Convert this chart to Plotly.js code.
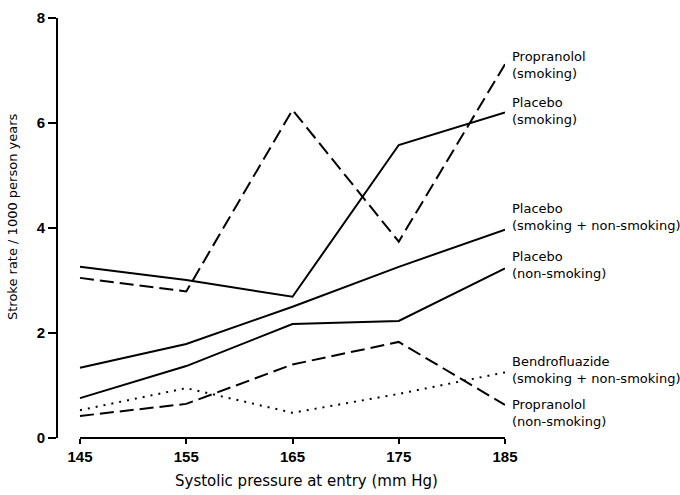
<!DOCTYPE html>
<html><head><meta charset="utf-8">
<script src="https://cdn.plot.ly/plotly-3.0.1.min.js"></script>
<style>html,body{margin:0;padding:0;background:#fff}</style>
</head><body><div id="chart" style="width:680px;height:495px"></div>
<script>
var pressure = [145, 155, 165, 175, 185];
var placeboSmoking = [3.26, 3.01, 2.69, 5.58, 6.20];
var propranololSmoking = [3.05, 2.79, 6.25, 3.74, 7.12];
var placeboAll = [1.34, 1.79, 2.50, 3.26, 3.97];
var placeboNonSmoking = [0.76, 1.37, 2.17, 2.23, 3.23];
var propranololNonSmoking = [0.42, 0.65, 1.40, 1.83, 0.63];
var bendrofluazideAll = [0.53, 0.95, 0.48, 0.84, 1.25];
var xTicks = [145, 155, 165, 175, 185];
var yTicks = [0, 2, 4, 6, 8];
var seriesLabels = [
  "Propranolol<br>(smoking)",
  "Placebo<br>(smoking)",
  "Placebo<br>(smoking + non-smoking)",
  "Placebo<br>(non-smoking)",
  "Bendrofluazide<br>(smoking + non-smoking)",
  "Propranolol<br>(non-smoking)"
];

function tr(y, dash) {
  return {x: pressure, y: y, mode: 'lines', type: 'scatter',
    line: {color: '#000', width: 2, dash: dash}, hoverinfo: 'skip', showlegend: false};
}
var data = [
  tr(placeboSmoking, 'solid'),
  tr(propranololSmoking, '14px,6px'),
  tr(placeboAll, 'solid'),
  tr(placeboNonSmoking, 'solid'),
  tr(propranololNonSmoking, '14px,6px'),
  tr(bendrofluazideAll, '2px,6px')
];

var L = 58, T = 18, W = 680, H = 495, R = 505, B = 438;
var pxPerUnit = (R - 80) / 40;
var xmin = 185 - (R - L) / pxPerUnit;
function px2paperX(p){ return (p - L) / (R - L); }
function px2paperY(p){ return (B - p) / (B - T); }
var txtFont = 'DejaVu Sans, Verdana, sans-serif';
var labelY = [65, 111, 217, 265, 370, 413];
var annotations = seriesLabels.map(function(t, i){
  return {text: t, xref: 'paper', yref: 'paper', x: px2paperX(510), y: px2paperY(labelY[i]),
    xanchor: 'left', yanchor: 'middle', align: 'left', showarrow: false,
    font: {family: txtFont, size: 13, color: '#000'}};
});
annotations.push({text: 'Systolic pressure at entry (mm Hg)', xref: 'paper', yref: 'paper',
  x: px2paperX(306), y: px2paperY(481), xanchor: 'center', yanchor: 'middle', showarrow: false,
  font: {family: txtFont, size: 15, color: '#000'}});
annotations.push({text: 'Stroke rate / 1000 person years', xref: 'paper', yref: 'paper',
  x: px2paperX(12), y: px2paperY(217), xanchor: 'center', yanchor: 'middle', showarrow: false,
  textangle: -90,
  font: {family: txtFont, size: 13, color: '#000'}});

var layout = {
  width: W, height: H,
  margin: {l: L, r: W - R, t: T, b: H - B, pad: 0},
  paper_bgcolor: '#fff', plot_bgcolor: '#fff',
  xaxis: {range: [xmin, 185], tickvals: xTicks, ticktext: xTicks.map(String),
    showgrid: false, zeroline: false, showline: false, ticks: 'outside', ticklen: 5,
    tickwidth: 2, tickcolor: '#000',
    tickfont: {family: 'Liberation Sans, Arial, sans-serif', size: 15, color: '#000', weight: 'bold'}},
  yaxis: {range: [0, 8], tickvals: yTicks, ticktext: yTicks.map(String),
    showgrid: false, zeroline: false, showline: true, linecolor: '#000', linewidth: 2,
    ticks: 'outside', ticklen: 8, tickwidth: 2, tickcolor: '#000',
    tickfont: {family: 'Liberation Sans, Arial, sans-serif', size: 15, color: '#000', weight: 'bold'}},
  shapes: [{type: 'line', xref: 'x', yref: 'paper', x0: 145, x1: 185, y0: 0, y1: 0,
    line: {color: '#000', width: 2}}],
  annotations: annotations
};
Plotly.newPlot('chart', data, layout, {displayModeBar: false, staticPlot: true});
</script></body></html>
